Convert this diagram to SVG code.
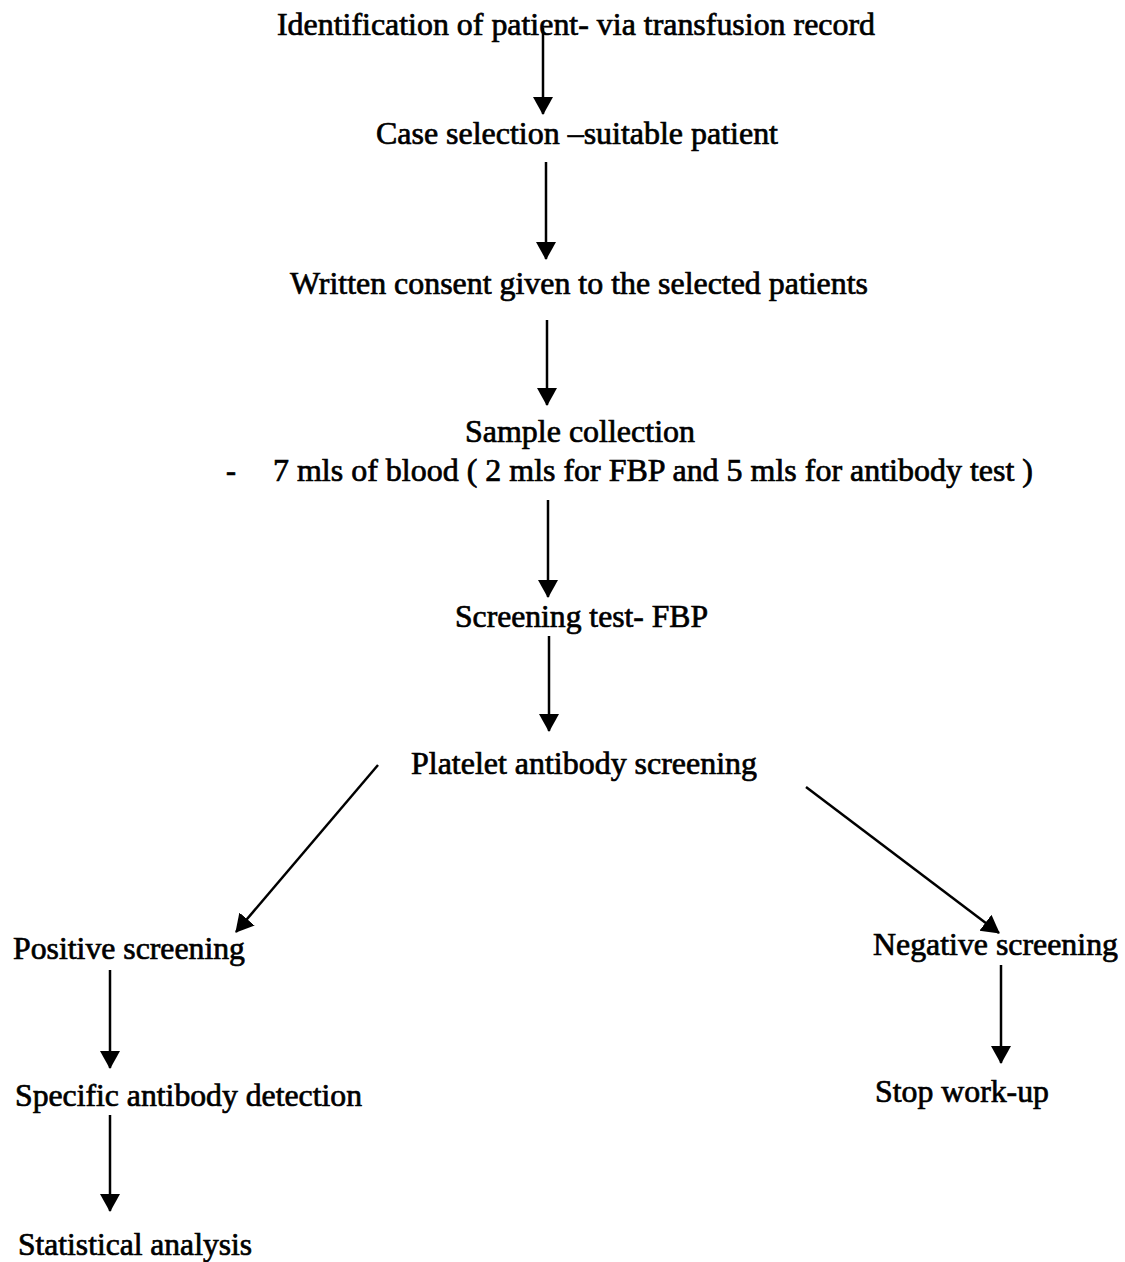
<svg xmlns="http://www.w3.org/2000/svg" width="1125" height="1262" viewBox="0 0 1125 1262">
<defs>
<marker id="ah" viewBox="0 0 18 22" refX="17" refY="11" markerWidth="18" markerHeight="22" markerUnits="userSpaceOnUse" orient="auto">
<path d="M0,1 L18,11 L0,21 Z" fill="#000"/>
</marker>
<style>
text{font-family:"Liberation Serif","Times New Roman",serif;font-size:32px;fill:#000;stroke:#000;stroke-width:0.7px;}
.c line{stroke:#000;stroke-width:2.5;marker-end:url(#ah);}
</style>
</defs>
<rect width="1125" height="1262" fill="#fff"/>
<g id="n1"><text x="277" y="35" textLength="598" lengthAdjust="spacingAndGlyphs">Identification of patient- via transfusion record</text></g>
<g id="n2"><text x="376" y="144" textLength="402" lengthAdjust="spacingAndGlyphs">Case selection –suitable patient</text></g>
<g id="n3"><text x="290" y="294" textLength="578" lengthAdjust="spacingAndGlyphs">Written consent given to the selected patients</text></g>
<g id="n4"><text x="465" y="442" textLength="230" lengthAdjust="spacingAndGlyphs">Sample collection</text>
<text x="226" y="481" textLength="10" lengthAdjust="spacingAndGlyphs">-</text>
<text x="273" y="481" textLength="760" lengthAdjust="spacingAndGlyphs">7 mls of blood ( 2 mls for FBP and 5 mls for antibody test )</text></g>
<g id="n5"><text x="455" y="627" textLength="253" lengthAdjust="spacingAndGlyphs">Screening test- FBP</text></g>
<g id="n6"><text x="411" y="774" textLength="346" lengthAdjust="spacingAndGlyphs">Platelet antibody screening</text></g>
<g id="n7"><text x="13" y="959" textLength="232" lengthAdjust="spacingAndGlyphs">Positive screening</text></g>
<g id="n8"><text x="873" y="955" textLength="245" lengthAdjust="spacingAndGlyphs">Negative screening</text></g>
<g id="n9"><text x="15" y="1106" textLength="347" lengthAdjust="spacingAndGlyphs">Specific antibody detection</text></g>
<g id="n10"><text x="875" y="1102" textLength="174" lengthAdjust="spacingAndGlyphs">Stop work-up</text></g>
<g id="n11"><text x="18" y="1255" textLength="234" lengthAdjust="spacingAndGlyphs">Statistical analysis</text></g>
<g id="connectors" class="c">
<line x1="543" y1="28" x2="543" y2="114"/>
<line x1="546" y1="162" x2="546" y2="259"/>
<line x1="547" y1="320" x2="547" y2="405"/>
<line x1="548" y1="500" x2="548" y2="597"/>
<line x1="549" y1="636" x2="549" y2="731"/>
<line x1="378" y1="765" x2="236" y2="932"/>
<line x1="806" y1="787" x2="999" y2="933"/>
<line x1="110" y1="970" x2="110" y2="1068"/>
<line x1="1001" y1="965" x2="1001" y2="1063"/>
<line x1="110" y1="1115" x2="110" y2="1211"/>
</g>
</svg>
